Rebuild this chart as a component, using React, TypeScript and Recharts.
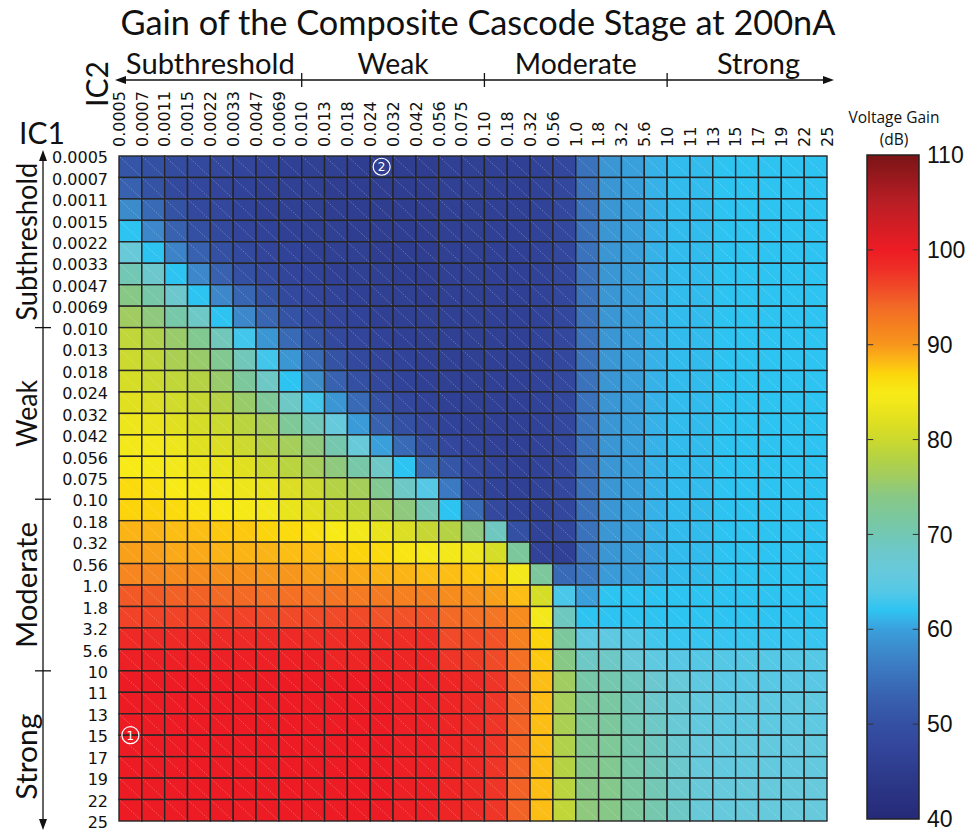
import React from "react";
import {
  ScatterChart,
  Scatter,
  XAxis,
  YAxis,
  ReferenceArea,
  ReferenceDot,
  ReferenceLine,
} from "recharts";

// inversion coefficient grid points (same for both devices)
const ic1Labels = [
  "0.0005", "0.0007", "0.0011", "0.0015", "0.0022", "0.0033", "0.0047", "0.0069",
  "0.010", "0.013", "0.018", "0.024", "0.032", "0.042", "0.056", "0.075",
  "0.10", "0.18", "0.32", "0.56", "1.0", "1.8", "3.2", "5.6",
  "10", "11", "13", "15", "17", "19", "22", "25",
];
const ic2Labels = [...ic1Labels];

const regions = ["Subthreshold", "Weak", "Moderate", "Strong"];
const regionBreaks = [8, 16, 24];

// voltage gain (dB), one row per IC1 interval, one column per IC2 interval
const gainRows: number[][] = [
  [51, 50, 49, 48.5, 48, 47.5, 47, 46.5, 46, 46, 45.5, 45.5, 45.5, 45.5, 46, 46, 46.5, 46.5, 47, 48, 55, 59, 60, 61, 61.5, 61.5, 62, 62, 62, 62, 62],
  [53, 50.5, 48.5, 48, 47.5, 47, 46.5, 46, 46, 45.5, 45.5, 45.5, 45.5, 45.5, 46, 46, 46.5, 46.5, 47, 48, 55, 59, 60, 61, 61.5, 61.5, 62, 62, 62, 62, 62],
  [58, 54, 50.5, 48.5, 48, 47, 46.5, 46, 46, 45.5, 45.5, 45.5, 45.5, 45.5, 46, 46, 46.5, 46.5, 47, 48, 55, 59, 60, 61, 61.5, 61.5, 62, 62, 62, 62, 62],
  [62, 57.5, 53, 50, 48.5, 47.5, 47, 46.5, 46, 46, 45.5, 45.5, 45.5, 45.5, 46, 46, 46.5, 46.5, 47, 48, 55, 59, 60, 61, 61.5, 61.5, 62, 62, 62, 62, 62],
  [66.5, 62, 57, 53, 50, 48.5, 47.5, 47, 46.5, 46, 46, 45.5, 45.5, 45.5, 46, 46, 46.5, 46.5, 47, 48, 55, 59, 60, 61, 61.5, 61.5, 62, 62, 62, 62, 62],
  [70, 68, 62, 57.5, 53, 50, 48.5, 47.5, 47, 46.5, 46, 46, 45.5, 45.5, 46, 46, 46.5, 46.5, 47, 48, 55, 59, 60, 61, 61.5, 61.5, 62, 62, 62, 62, 62],
  [74, 71, 68, 62, 57.5, 53.5, 50.5, 48.5, 47.5, 47, 46.5, 46, 46, 45.5, 46, 46, 46.5, 46.5, 47, 48, 55, 59, 60, 61, 61.5, 61.5, 62, 62, 62, 62, 62],
  [76, 74.5, 71, 68.5, 62, 57.5, 53.5, 50.5, 48.5, 47.5, 47, 46.5, 46, 46, 46, 46, 46.5, 46.5, 47, 48, 55, 59, 60, 61, 61.5, 61.5, 62, 62, 62, 62, 62],
  [79, 77.5, 75.5, 73, 69.5, 63, 59, 54, 50.5, 48.5, 47.5, 47, 46.5, 46, 46, 46, 46.5, 46.5, 47, 48, 55, 59, 60, 61, 61.5, 61.5, 62, 62, 62, 62, 62],
  [80, 79, 77, 75.5, 73, 69.5, 63, 59, 54, 50.5, 48.5, 47.5, 47, 46.5, 46, 46, 46.5, 46.5, 47, 48, 55, 59, 60, 61, 61.5, 61.5, 62, 62, 62, 62, 62],
  [81, 80, 79, 78, 75.5, 72, 68.5, 62, 58, 53, 50, 48, 47, 46.5, 46, 46, 46.5, 46.5, 47, 48, 55, 59, 60, 61, 61.5, 61.5, 62, 62, 62, 62, 62],
  [82, 81.5, 80.5, 79.5, 78, 75.5, 72.5, 68.5, 63, 59, 54, 50, 48, 47, 46.5, 46, 46.5, 46.5, 47, 48, 55, 59, 60, 61, 61.5, 61.5, 62, 62, 62, 62, 62],
  [83.5, 83, 82, 81, 80, 78.5, 76.5, 72.5, 69.5, 66, 59.5, 53, 50, 48, 47, 46.5, 46.5, 46.5, 47, 48, 55, 59, 60, 61, 61.5, 61.5, 62, 62, 62, 62, 62],
  [84, 84, 83.5, 82, 81.5, 80, 78, 76.5, 74.5, 70.5, 66.5, 60, 54, 50, 48, 47, 46.5, 46.5, 47, 48, 55, 59, 60, 61, 61.5, 61.5, 62, 62, 62, 62, 62],
  [85, 84.5, 84, 83.5, 83, 82, 80, 78.5, 76.5, 74.5, 71, 68.5, 62, 54, 51, 48, 47, 46.5, 47, 48, 55, 59, 60, 61, 61.5, 61.5, 62, 62, 62, 62, 62],
  [86.5, 86, 85, 84.5, 84, 83.5, 83, 81.5, 80, 78, 76.5, 73, 68.5, 64, 56, 48.5, 47, 46.5, 47, 48, 55, 59, 60, 61, 61.5, 61.5, 62, 62, 62, 62, 62],
  [87, 87, 86.5, 85.5, 85, 84.5, 84, 83, 82, 80, 78.5, 76.5, 74.5, 70, 62, 54, 48.5, 47, 47, 48, 55, 59, 60, 61, 61.5, 61.5, 62, 62, 62, 62, 62],
  [88.5, 88.5, 88, 88, 87.5, 87.5, 87, 86.5, 86, 85, 84, 83, 81.5, 79.5, 78, 74.5, 69, 50, 47, 48, 55, 59, 60, 61, 61.5, 61.5, 62, 62, 62, 62, 62],
  [89.5, 89.5, 89, 89, 88.5, 88.5, 88.5, 88, 88, 87.5, 87, 86.5, 85.5, 84.5, 84, 83.5, 81, 72, 47, 46.5, 55, 59, 60, 61, 61.5, 61.5, 62, 62, 62, 62, 62],
  [91.5, 91.5, 91, 91, 90.5, 90.5, 90, 90, 89.5, 89.5, 89, 88.5, 88.5, 88, 88, 87.5, 87.5, 84, 72, 54, 56, 59.5, 60, 61, 61.5, 61.5, 62, 62, 62, 62, 62],
  [95, 95, 94.5, 94.5, 94, 94, 93.5, 93.5, 93, 93, 92.5, 92.5, 92, 92, 91, 90.5, 89.5, 88, 81, 63.5, 60, 62, 62, 62, 62, 62, 62, 62, 62, 62, 62],
  [96.5, 96.5, 96.5, 96.5, 96.5, 96.5, 96, 96, 96, 96, 96, 95.5, 95.5, 95.5, 94, 93.5, 93, 91, 84, 69, 62, 62, 62, 62, 62, 62, 62, 62, 62, 62, 62],
  [98.5, 98.5, 98.5, 98.5, 98.5, 98.5, 98.5, 98.5, 98, 98, 98, 98, 98, 98, 96, 96, 95.5, 92, 87, 72, 65, 65, 64, 63, 62.5, 62.5, 62.5, 62.5, 62.5, 62.5, 62.5],
  [99.5, 99.5, 99.5, 99.5, 99.5, 99.5, 99.5, 99.5, 99.5, 99, 99, 99, 99, 99, 97.5, 97, 96, 93.5, 87.5, 74, 68.5, 68.5, 66.5, 65, 64.5, 64, 64, 64, 64, 64, 64],
  [100, 100, 100, 100, 100, 100, 100, 100, 100, 100, 100, 100, 99.5, 99.5, 99, 98.5, 97.5, 94.5, 88, 76, 71, 70.5, 69, 67.5, 66.5, 65, 64.5, 64.5, 64.5, 64.5, 64.5],
  [100, 100, 100, 100, 100, 100, 100, 100, 100, 100, 100, 100, 99.5, 99.5, 99, 98.5, 97.5, 94.5, 88, 76.5, 72, 71.5, 69.5, 68, 67, 65.5, 65, 65, 65, 65, 65],
  [100, 100, 100, 100, 100, 100, 100, 100, 100, 100, 100, 100, 99.5, 99.5, 99, 98.5, 97.5, 94.5, 88, 77, 72.5, 72, 70, 68.5, 67, 65.5, 65, 65, 65, 65, 65],
  [100, 100, 100, 100, 100, 100, 100, 100, 100, 100, 100, 100, 99.5, 99.5, 99, 98.5, 97.5, 94.5, 88, 77.5, 73, 72.5, 70.5, 69, 67.5, 66, 65.5, 65.5, 65.5, 65.5, 65.5],
  [100, 100, 100, 100, 100, 100, 100, 100, 100, 100, 100, 100, 99.5, 99.5, 99, 98.5, 97.5, 94.5, 88, 78, 73.5, 73, 71, 69.5, 68, 66, 65.5, 65.5, 65.5, 65.5, 65.5],
  [100, 100, 100, 100, 100, 100, 100, 100, 100, 100, 100, 100, 99.5, 99.5, 99, 98.5, 97.5, 94.5, 88, 78.5, 74, 73.5, 71.5, 70, 68, 66.5, 66, 66, 66, 66, 66],
  [100, 100, 100, 100, 100, 100, 100, 100, 100, 100, 100, 100, 99.5, 99.5, 99, 98.5, 97.5, 94.5, 88, 79, 74.5, 74, 72, 70.5, 68.5, 66.5, 66, 66, 66, 66, 66],
];

// circled operating points: [label, IC2 position, IC1 position]
const markers: [string, number, number][] = [
  ["1", 0.5, 27],
  ["2", 11.5, 0.5],
];

const colorbarTicks = [40, 50, 60, 70, 80, 90, 100, 110];

// jet-like colour map used for the gain surface
const colorStops: [number, string][] = [
  [40, "#262a78"],
  [44, "#2c3888"],
  [48, "#33479d"],
  [50, "#3450a2"],
  [53, "#3862b0"],
  [56, "#3b7ac2"],
  [58, "#3c8ccc"],
  [60, "#3aa0dc"],
  [61, "#36b2e8"],
  [62, "#2ec4f2"],
  [64, "#55c8e6"],
  [66, "#66c9dc"],
  [68, "#6cc8cc"],
  [70, "#72c8b4"],
  [72, "#7cc89c"],
  [74, "#88c886"],
  [76, "#a0cc62"],
  [78, "#b4d244"],
  [80, "#ccd92e"],
  [82, "#e0e020"],
  [84, "#f3e81a"],
  [85, "#f7ea16"],
  [86, "#fae010"],
  [87, "#fcd40c"],
  [88, "#fcbe14"],
  [89, "#faaa18"],
  [90, "#f7961d"],
  [92, "#f5801f"],
  [94, "#f26a26"],
  [96, "#f04a28"],
  [98, "#ee2e26"],
  [100, "#ed1c24"],
  [105, "#b91e25"],
  [110, "#7a1416"],
];

const hexToRgb = (h: string) => [
  parseInt(h.slice(1, 3), 16),
  parseInt(h.slice(3, 5), 16),
  parseInt(h.slice(5, 7), 16),
];

function gainColor(v: number) {
  if (v <= colorStops[0][0]) return colorStops[0][1];
  for (let i = 1; i < colorStops.length; i++) {
    const [v1, c1] = colorStops[i];
    if (v <= v1) {
      const [v0, c0] = colorStops[i - 1];
      const t = (v - v0) / (v1 - v0);
      const a = hexToRgb(c0);
      const b = hexToRgb(c1);
      const m = a.map((x, k) => Math.round(x + (b[k] - x) * t));
      return `rgb(${m[0]},${m[1]},${m[2]})`;
    }
  }
  return colorStops[colorStops.length - 1][1];
}

const cells = gainRows.flatMap((row, r) =>
  row.map((gain, c) => ({ x: c + 0.5, y: r + 0.5, col: c, row: r, gain }))
);

const vertexTicks = ic2Labels.map((_, i) => i);
const N = ic2Labels.length - 1;

// layout of the main plot
const PLOT_LEFT = 119;
const PLOT_TOP = 156;
const PLOT_RIGHT = 827;
const PLOT_BOTTOM = 821;
const X_AXIS_H = 70;
const Y_AXIS_W = 70;
const vx = (i: number) => PLOT_LEFT + (i * (PLOT_RIGHT - PLOT_LEFT)) / N;
const vy = (i: number) => PLOT_TOP + (i * (PLOT_BOTTOM - PLOT_TOP)) / N;

const tickFont = "'DejaVu Sans', Verdana, sans-serif";
const labelFont = "Lato, 'Open Sans', sans-serif";

const ColTick = (props: any) => {
  const { x, y, payload } = props;
  return (
    <text
      transform={`translate(${x},${y}) rotate(-90)`}
      textAnchor="start"
      dy="0.36em"
      fontSize={16}
      fontFamily={tickFont}
      fill="#111"
    >
      {ic2Labels[payload.value]}
    </text>
  );
};

const RowTick = (props: any) => {
  const { x, y, payload } = props;
  return (
    <text x={x} y={y} dy="0.45em" textAnchor="end" fontSize={16} fontFamily={tickFont} fill="#111">
      {ic1Labels[payload.value]}
    </text>
  );
};

const CellShape = (props: any) => {
  const { x, y, width, height, fill } = props;
  return (
    <g>
      <rect x={x} y={y} width={width} height={height} fill={fill} stroke="#262626" strokeWidth={1.4} />
      <line
        x1={x + 1}
        y1={y + 1}
        x2={x + width - 1}
        y2={y + height - 1}
        stroke="#ffffff"
        strokeOpacity={0.35}
        strokeWidth={0.8}
        strokeDasharray="1.5 1.5"
      />
    </g>
  );
};

const markerShape = (label: string) => (props: any) => (
  <g>
    <circle cx={props.cx} cy={props.cy} r={8.5} fill="none" stroke="#fff" strokeWidth={1.2} />
    <text x={props.cx} y={props.cy} dy="0.36em" textAnchor="middle" fontSize={12} fontFamily={tickFont} fill="#fff">
      {label}
    </text>
  </g>
);

function GainMap() {
  return (
    <ScatterChart
      width={970}
      height={832}
      margin={{
        top: PLOT_TOP - X_AXIS_H,
        right: 970 - PLOT_RIGHT,
        bottom: 832 - PLOT_BOTTOM,
        left: PLOT_LEFT - Y_AXIS_W,
      }}
    >
      <XAxis
        type="number"
        dataKey="x"
        orientation="top"
        domain={[0, N]}
        ticks={vertexTicks}
        interval={0}
        height={X_AXIS_H}
        axisLine={false}
        tickLine={false}
        tickSize={0}
        tickMargin={9}
        tick={<ColTick />}
        allowDataOverflow
      />
      <YAxis
        type="number"
        dataKey="y"
        domain={[0, N]}
        reversed
        ticks={vertexTicks}
        interval={0}
        width={Y_AXIS_W}
        axisLine={false}
        tickLine={false}
        tickSize={0}
        tickMargin={11}
        tick={<RowTick />}
        allowDataOverflow
      />
      {cells.map((c) => (
        <ReferenceArea
          key={`${c.row}-${c.col}`}
          x1={c.col}
          x2={c.col + 1}
          y1={c.row}
          y2={c.row + 1}
          fill={gainColor(c.gain)}
          fillOpacity={1}
          shape={CellShape}
        />
      ))}
      <Scatter data={cells} isAnimationActive={false} shape={() => <g />} />
      {markers.map(([label, x, y]) => (
        <ReferenceDot key={label} x={x} y={y} r={8} shape={markerShape(label)} />
      ))}
    </ScatterChart>
  );
}

function ColorBar() {
  const cbData = colorbarTicks.map((v) => ({ x: 0.5, y: v }));
  return (
    <ScatterChart width={130} height={832} margin={{ top: 155, right: 0, bottom: 13, left: 27 }}>
      <defs>
        <linearGradient id="gainGradient" x1="0" y1="1" x2="0" y2="0">
          {colorStops.map(([v, c]) => (
            <stop key={v} offset={`${((v - 40) / 70) * 100}%`} stopColor={c} />
          ))}
        </linearGradient>
      </defs>
      <XAxis type="number" dataKey="x" domain={[0, 1]} hide />
      <YAxis
        type="number"
        dataKey="y"
        orientation="right"
        domain={[40, 110]}
        ticks={colorbarTicks}
        interval={0}
        width={51}
        axisLine={false}
        tickLine={false}
        tickSize={0}
        tickMargin={8}
        tick={{ fontSize: 23, fontFamily: "'Liberation Sans', Arial, sans-serif", fill: "#111" }}
      />
      <ReferenceArea x1={0} x2={1} y1={40} y2={110} fill="url(#gainGradient)" fillOpacity={1} stroke="#222" strokeWidth={1.5} />
      {colorbarTicks.slice(1, -1).map((v) => (
        <ReferenceLine key={`l${v}`} segment={[{ x: 0, y: v }, { x: 0.12, y: v }]} stroke="#333" strokeWidth={1} />
      ))}
      {colorbarTicks.slice(1, -1).map((v) => (
        <ReferenceLine key={`r${v}`} segment={[{ x: 0.88, y: v }, { x: 1, y: v }]} stroke="#333" strokeWidth={1} />
      ))}
      <Scatter data={cbData} isAnimationActive={false} shape={() => <g />} />
    </ScatterChart>
  );
}

function Annotations() {
  const arrowY = 80;
  const arrowX = 43;
  const topLengths = [169, 71, 122, 83];
  const sideLengths = [158, 67, 126, 86];
  return (
    <svg width={970} height={832} style={{ position: "absolute", left: 0, top: 0, pointerEvents: "none" }}>
      <text x={478} y={35} textAnchor="middle" fontSize={35} fontFamily={labelFont} fill="#111" textLength={715} lengthAdjust="spacingAndGlyphs">
        Gain of the Composite Cascode Stage at 200nA
      </text>

      {/* IC2 axis arrow with region labels */}
      <line x1={vx(0) + 2} y1={arrowY} x2={vx(N) + 1} y2={arrowY} stroke="#111" strokeWidth={1.3} />
      <polygon points={`${vx(0) - 4},${arrowY} ${vx(0) + 7},${arrowY - 4} ${vx(0) + 7},${arrowY + 4}`} fill="#111" />
      <polygon points={`${vx(N) + 7},${arrowY} ${vx(N) - 4},${arrowY - 4} ${vx(N) - 4},${arrowY + 4}`} fill="#111" />
      {regionBreaks.map((b) => (
        <line key={b} x1={vx(b)} y1={arrowY - 7} x2={vx(b)} y2={arrowY + 7} stroke="#111" strokeWidth={1.3} />
      ))}
      {regions.map((name, i) => (
        <text
          key={name}
          x={(vx(i * 8) + vx(i * 8 + 8)) / 2}
          y={74}
          textAnchor="middle"
          fontSize={29}
          fontFamily={labelFont}
          fill="#111"
          textLength={topLengths[i]}
          lengthAdjust="spacingAndGlyphs"
        >
          {name}
        </text>
      ))}
      <text transform="translate(108,84) rotate(-90)" textAnchor="middle" fontSize={30} fontFamily={labelFont} fill="#111">
        IC2
      </text>

      {/* IC1 axis arrow with region labels */}
      <text x={42} y={144} textAnchor="middle" fontSize={30} fontFamily={labelFont} fill="#111">
        IC1
      </text>
      <line x1={arrowX} y1={vy(0) + 2} x2={arrowX} y2={vy(N) + 3} stroke="#111" strokeWidth={1.3} />
      <polygon points={`${arrowX},${vy(0) - 6} ${arrowX - 4},${vy(0) + 5} ${arrowX + 4},${vy(0) + 5}`} fill="#111" />
      <polygon points={`${arrowX},${vy(N) + 9} ${arrowX - 4},${vy(N) - 2} ${arrowX + 4},${vy(N) - 2}`} fill="#111" />
      {regionBreaks.map((b) => (
        <line key={b} x1={arrowX - 8} y1={vy(b)} x2={arrowX + 8} y2={vy(b)} stroke="#111" strokeWidth={1.3} />
      ))}
      {regions.map((name, i) => (
        <text
          key={name}
          transform={`translate(37,${(vy(i * 8) + vy(i * 8 + 8)) / 2}) rotate(-90)`}
          textAnchor="middle"
          fontSize={29}
          fontFamily={labelFont}
          fill="#111"
          textLength={sideLengths[i]}
          lengthAdjust="spacingAndGlyphs"
        >
          {name}
        </text>
      ))}

      <text x={894} y={123} textAnchor="middle" fontSize={15.5} fontFamily="'Open Sans', sans-serif" fill="#111">
        Voltage Gain
      </text>
      <text x={894} y={145} textAnchor="middle" fontSize={15.5} fontFamily="'Open Sans', sans-serif" fill="#111">
        (dB)
      </text>
    </svg>
  );
}

export default function App() {
  return (
    <div style={{ position: "absolute", left: 0, top: 0, width: 970, height: 832, background: "#fff" }}>
      <div style={{ position: "absolute", left: 0, top: 0 }}>
        <GainMap />
      </div>
      <div style={{ position: "absolute", left: 840, top: 0 }}>
        <ColorBar />
      </div>
      <Annotations />
    </div>
  );
}
